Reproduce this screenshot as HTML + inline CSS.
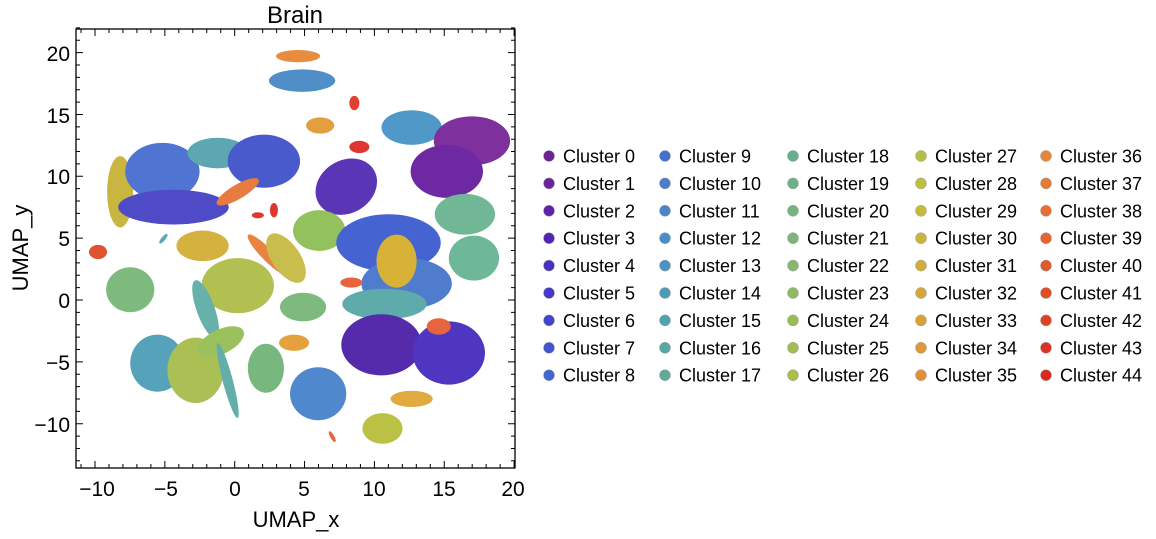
<!DOCTYPE html>
<html><head><meta charset="utf-8"><style>
body{margin:0;background:#fff;width:1156px;height:534px;overflow:hidden;font-family:"Liberation Sans",sans-serif}
</style></head><body>
<svg width="1156" height="534" xmlns="http://www.w3.org/2000/svg" font-family="Liberation Sans, sans-serif">
<text x="295" y="23" font-size="24" text-anchor="middle">Brain</text>
<g opacity="0.97" transform="matrix(1.005 0 0 1.02 4.6 -2)">
<ellipse cx="292" cy="57" rx="22" ry="6" fill="#e8893a"/>
<ellipse cx="296" cy="81" rx="33" ry="11" fill="#4a8bc6"/>
<ellipse cx="348" cy="103" rx="5" ry="7" fill="#e03a2a"/>
<ellipse cx="314" cy="125" rx="14" ry="8" fill="#e39c38"/>
<ellipse cx="353" cy="146" rx="10" ry="6" fill="#e0302a"/>
<ellipse cx="115" cy="190" rx="13" ry="35" fill="#c8b43a"/>
<ellipse cx="157" cy="170" rx="37" ry="28" fill="#4a70d0"/>
<ellipse cx="212" cy="152" rx="30" ry="15" fill="#58a5b0"/>
<ellipse cx="258" cy="160" rx="36" ry="26" fill="#4455cc"/>
<ellipse cx="168" cy="205" rx="55" ry="17" fill="#4a45c4"/>
<ellipse cx="232" cy="190" rx="24" ry="7" fill="#e8783a" transform="rotate(-30 232 190)"/>
<ellipse cx="252" cy="213" rx="6" ry="3" fill="#e0302a"/>
<ellipse cx="268" cy="208" rx="4" ry="7" fill="#e0302a"/>
<ellipse cx="405" cy="127" rx="30" ry="17" fill="#4a95c6"/>
<ellipse cx="465" cy="140" rx="38" ry="24" fill="#7a2a9a"/>
<ellipse cx="440" cy="170" rx="36" ry="26" fill="#6a22a0"/>
<ellipse cx="340" cy="185" rx="32" ry="26" fill="#5530b5" transform="rotate(-30 340 185)"/>
<ellipse cx="313" cy="228" rx="26" ry="20" fill="#8fbf58"/>
<ellipse cx="382" cy="240" rx="52" ry="28" fill="#4060d0"/>
<ellipse cx="400" cy="280" rx="45" ry="25" fill="#4a78cc"/>
<ellipse cx="390" cy="258" rx="20" ry="26" fill="#d6b030"/>
<ellipse cx="458" cy="212" rx="30" ry="20" fill="#6db592"/>
<ellipse cx="467" cy="255" rx="25" ry="22" fill="#6ab596"/>
<ellipse cx="378" cy="300" rx="42" ry="15" fill="#5aa8a8"/>
<ellipse cx="345" cy="279" rx="11" ry="5" fill="#e8603a"/>
<ellipse cx="375" cy="340" rx="40" ry="30" fill="#5025aa"/>
<ellipse cx="442" cy="348" rx="36" ry="31" fill="#4a30c0"/>
<ellipse cx="432" cy="322" rx="12" ry="8" fill="#e8603a"/>
<ellipse cx="197" cy="243" rx="26" ry="15" fill="#d4b03a"/>
<ellipse cx="262" cy="252" rx="28" ry="6" fill="#e8803a" transform="rotate(45 262 252)"/>
<ellipse cx="280" cy="255" rx="14" ry="28" fill="#c8bc48" transform="rotate(-35 280 255)"/>
<ellipse cx="93" cy="249" rx="9" ry="7" fill="#e04e2a"/>
<ellipse cx="158" cy="236" rx="2" ry="6" fill="#58a5b0" transform="rotate(40 158 236)"/>
<ellipse cx="125" cy="286" rx="24" ry="22" fill="#7ab87a"/>
<ellipse cx="232" cy="282" rx="36" ry="27" fill="#b0bd4c"/>
<ellipse cx="200" cy="305" rx="9" ry="30" fill="#62afa8" transform="rotate(-20 200 305)"/>
<ellipse cx="297" cy="303" rx="23" ry="14" fill="#7ab87a"/>
<ellipse cx="288" cy="338" rx="15" ry="8" fill="#e3a038"/>
<ellipse cx="260" cy="363" rx="18" ry="24" fill="#74b57a"/>
<ellipse cx="312" cy="388" rx="28" ry="26" fill="#4a85cc"/>
<ellipse cx="152" cy="358" rx="27" ry="28" fill="#50a0b8"/>
<ellipse cx="190" cy="365" rx="28" ry="32" fill="#a8be50"/>
<ellipse cx="215" cy="337" rx="25" ry="12" fill="#98c058" transform="rotate(-25 215 337)"/>
<ellipse cx="222" cy="375" rx="5" ry="38" fill="#60aca8" transform="rotate(-15 222 375)"/>
<ellipse cx="405" cy="393" rx="21" ry="8" fill="#e0a838"/>
<ellipse cx="376" cy="422" rx="20" ry="15" fill="#b8c040"/>
<ellipse cx="326" cy="430" rx="2" ry="6" fill="#e8603a" transform="rotate(-30 326 430)"/>
</g>
<rect x="76" y="29" width="439" height="439" fill="none" stroke="#000" stroke-width="1.3"/>
<g stroke="#000" stroke-width="1" id="ticks"></g>
<g font-size="21" text-anchor="middle">
<text x="97" y="496">−10</text><text x="166" y="496">−5</text><text x="235" y="496">0</text><text x="304" y="496">5</text><text x="374" y="496">10</text><text x="444" y="496">15</text><text x="513" y="496">20</text>
</g>
<g font-size="21" text-anchor="end">
<text x="70" y="61">20</text><text x="70" y="123">15</text><text x="70" y="184">10</text><text x="70" y="246">5</text><text x="70" y="308">0</text><text x="70" y="370">−5</text><text x="70" y="432">−10</text>
</g>
<text x="296" y="527" font-size="22" text-anchor="middle">UMAP_x</text>
<text transform="translate(28 248) rotate(-90)" font-size="22" text-anchor="middle">UMAP_y</text>
<g font-size="18" id="leg"></g>
</svg>
<script>
var t='';
for(var u=-11;u<=20;u++){var x=234.7+u*13.97,L=(u%5==0)?7:4;t+='M'+x+',468v-'+L+'M'+x+',29v'+L;}
for(var v=-13;v<=22;v++){var y=300-v*12.37,L=(v%5==0)?7:4;t+='M76,'+y+'h'+L+'M515,'+y+'h-'+L;}
document.getElementById('ticks').innerHTML='<path d="'+t+'"/>';
var cols=["#6e2395","#6b22a0","#5d22aa","#5226b5","#4a2fc0","#4438c8","#4146cc","#3f56cf","#4066d0","#4272cf","#4a7dcc","#4a85c9","#4a8dc5","#4a95c0","#4c9cb8","#50a2ae","#56a8a4","#5eac98","#66b08e","#6db287","#74b47e","#7db676","#85b86c","#8fba62","#99bc58","#a3bd50","#acbe4a","#b6bf45","#bebe40","#c5bb3d","#cab53a","#d0ae38","#d6a737","#dba036","#e09838","#e58e38","#e78538","#e77a36","#e67034","#e56430","#e3582c","#e14c29","#de4026","#dc3424","#d92a22"];
var xs=[549,665,793,921,1046],g=document.getElementById('leg'),h='';
for(var i=0;i<45;i++){var c=Math.floor(i/9),r=i%9,x=xs[c],y=156+r*27.4;
h+='<circle cx="'+x+'" cy="'+y+'" r="5.5" fill="'+cols[i]+'" stroke="#999" stroke-width="0.5"/><text x="'+(x+14)+'" y="'+(y+6.5)+'">Cluster '+i+'</text>';}
g.innerHTML=h;
</script>
</body></html>
